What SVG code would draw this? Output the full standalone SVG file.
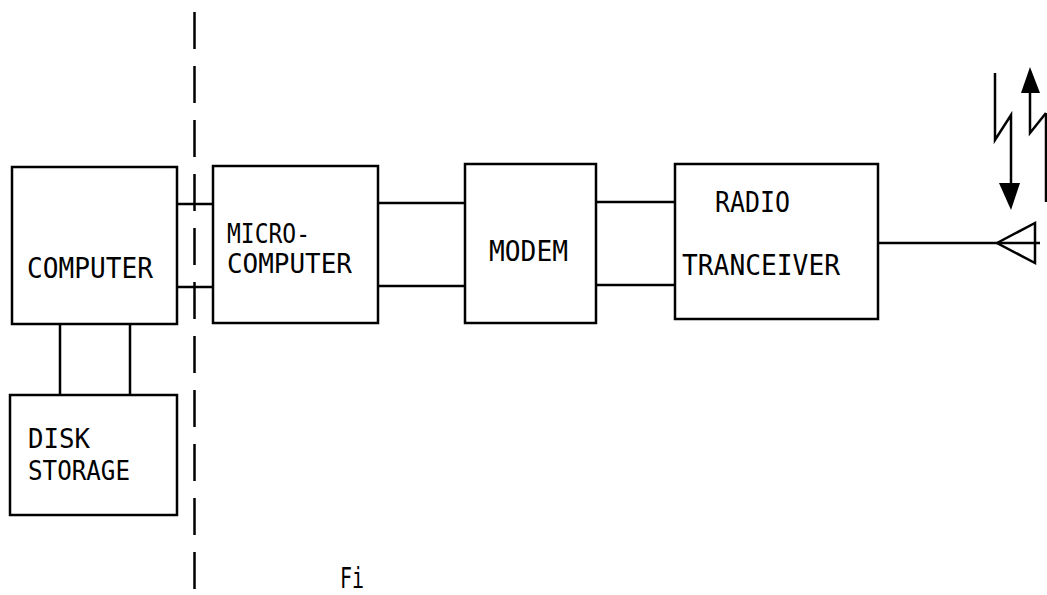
<svg xmlns="http://www.w3.org/2000/svg" width="1047" height="595" viewBox="0 0 1047 595">
<style>
.box{fill:none;stroke:#000;stroke-width:2.5}
.ln{stroke:#000;stroke-width:2.5;fill:none}
.t{font-family:"DejaVu Sans Mono","Liberation Mono",monospace;font-size:29px;fill:#000}
.s{font-size:26px}
</style>
<rect width="1047" height="595" fill="#fff"/>
<g id="divider">
<line x1="194.5" y1="12" x2="194.5" y2="595" stroke="#000" stroke-width="2.5" stroke-dasharray="37 17"/>
</g>
<g id="connectors">
<line class="ln" x1="177" y1="204" x2="213" y2="204"/>
<line class="ln" x1="177" y1="287" x2="213" y2="287"/>
<line class="ln" x1="60" y1="324" x2="60" y2="395"/>
<line class="ln" x1="130" y1="324" x2="130" y2="395"/>
<line class="ln" x1="378" y1="203" x2="465" y2="203"/>
<line class="ln" x1="378" y1="286" x2="465" y2="286"/>
<line class="ln" x1="596" y1="202" x2="675" y2="202"/>
<line class="ln" x1="596" y1="285" x2="675" y2="285"/>
<line class="ln" x1="878" y1="243" x2="1040" y2="243"/>
</g>
<g id="computer">
<rect class="box" x="12" y="167" width="165" height="157"/>
<text class="t" x="27" y="278" textLength="126" lengthAdjust="spacingAndGlyphs">COMPUTER</text>
</g>
<g id="disk-storage">
<rect class="box" x="10" y="395" width="167" height="120"/>
<text class="t s" x="28" y="448" textLength="62" lengthAdjust="spacingAndGlyphs">DISK</text>
<text class="t s" x="28" y="480" textLength="102" lengthAdjust="spacingAndGlyphs">STORAGE</text>
</g>
<g id="microcomputer">
<rect class="box" x="213" y="166" width="165" height="157"/>
<text class="t s" x="227" y="243" textLength="83" lengthAdjust="spacingAndGlyphs">MICRO-</text>
<text class="t s" x="227" y="273" textLength="125" lengthAdjust="spacingAndGlyphs">COMPUTER</text>
</g>
<g id="modem">
<rect class="box" x="465" y="164" width="131" height="159"/>
<text class="t" x="489" y="261" textLength="79" lengthAdjust="spacingAndGlyphs">MODEM</text>
</g>
<g id="radio-tranceiver">
<rect class="box" x="675" y="164" width="203" height="155"/>
<text class="t" x="715" y="212" textLength="75" lengthAdjust="spacingAndGlyphs">RADIO</text>
<text class="t" x="682" y="275" textLength="158" lengthAdjust="spacingAndGlyphs">TRANCEIVER</text>
</g>
<g id="antenna">
<polygon points="997,243 1035,223 1035,263" fill="none" stroke="#000" stroke-width="2.5"/>
</g>
<g id="radio-waves">
<polyline class="ln" points="995,73 995,140 1011,115 1011,185"/>
<polygon points="999,183 1020,183 1011,210" fill="#000"/>
<polyline class="ln" points="1030,92 1030,133 1046,113"/>
<line class="ln" x1="1046" y1="113" x2="1046" y2="202"/>
<polygon points="1030,67 1021,93 1040,93" fill="#000"/>
</g>
<g id="caption">
<text class="t" x="340" y="588" font-size="20" textLength="24" lengthAdjust="spacingAndGlyphs">Fi</text>
</g>
</svg>
